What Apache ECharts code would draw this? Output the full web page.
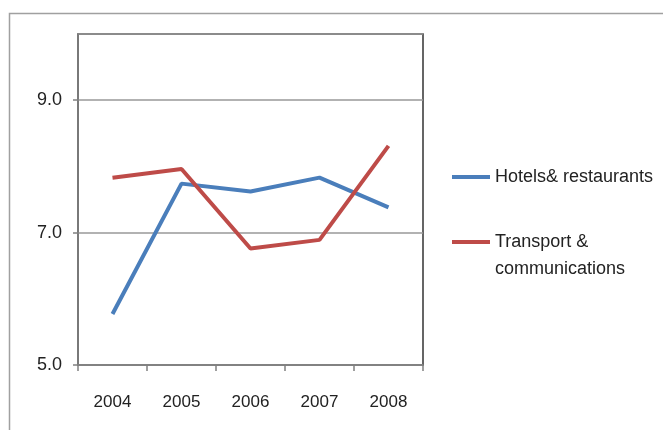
<!DOCTYPE html>
<html>
<head>
<meta charset="utf-8">
<script src="https://cdn.jsdelivr.net/npm/echarts@6/dist/echarts.min.js"></script>
<style>html,body{margin:0;padding:0;background:#fff;}#c{width:663px;height:430px;}</style>
</head>
<body>
<div id="c"></div>
<script>
var categories = ['2004', '2005', '2006', '2007', '2008'];
var hotels = [5.77, 7.74, 7.62, 7.83, 7.38];
var transport = [7.83, 7.96, 6.76, 6.89, 8.31];
var seriesNames = ['Hotels& restaurants', 'Transport &\ncommunications'];
var yMin = 5, yMax = 10, yStep = 2;

var FONT = 'Liberation Sans, Arial, sans-serif';
var chart = echarts.init(document.getElementById('c'), null, {renderer: 'canvas'});
chart.setOption({
  backgroundColor: '#fff',
  animation: false,
  graphic: [{
    type: 'rect', left: 7, top: 11, silent: true,
    shape: {x: 0, y: 0, width: 700, height: 500},
    style: {fill: 'none', stroke: '#a0a0a0', lineWidth: 1.5}
  }],
  grid: {
    left: 78, top: 34, right: 240, bottom: 65,
    show: true, borderColor: '#333', borderWidth: 1.5, backgroundColor: 'transparent'
  },
  legend: [{
    orient: 'vertical', left: 452, top: 163.5, padding: 0,
    itemWidth: 38, itemHeight: 4, itemGap: 5, icon: 'rect',
    data: [seriesNames[0]],
    textStyle: {fontFamily: FONT, fontSize: 18, color: '#222', lineHeight: 27}
  }, {
    orient: 'vertical', left: 452, top: 201.5, padding: 0,
    itemWidth: 38, itemHeight: 4, itemGap: 5, icon: 'rect',
    data: [seriesNames[1]],
    formatter: function (name) { return '\n' + name; },
    textStyle: {fontFamily: FONT, fontSize: 18, color: '#222', lineHeight: 27}
  }],
  xAxis: {
    type: 'category', data: categories, boundaryGap: true,
    axisLine: {lineStyle: {color: '#808080', width: 1.5}},
    axisTick: {show: true, length: 6, lineStyle: {color: '#808080', width: 1.5}},
    axisLabel: {fontFamily: FONT, fontSize: 17, color: '#222', margin: 29},
    splitLine: {show: false}
  },
  yAxis: {
    type: 'value', min: yMin, max: yMax, interval: yStep,
    axisLine: {show: true, lineStyle: {color: '#808080', width: 1.5}},
    axisTick: {show: true, length: 5, lineStyle: {color: '#808080', width: 1.5}},
    axisLabel: {
      fontFamily: FONT, fontSize: 18, color: '#222', margin: 16,
      showMaxLabel: false,
      formatter: function (v) { return v === yMax ? '' : v.toFixed(1); }
    },
    splitLine: {show: true, lineStyle: {color: '#999', width: 1.5}}
  },
  series: [{
    name: seriesNames[0], type: 'line', data: hotels,
    showSymbol: false, symbol: 'none',
    itemStyle: {color: '#4A7EBB'},
    lineStyle: {color: '#4A7EBB', width: 4}
  }, {
    name: seriesNames[1], type: 'line', data: transport,
    showSymbol: false, symbol: 'none',
    itemStyle: {color: '#BE4B48'},
    lineStyle: {color: '#BE4B48', width: 4}
  }]
});
</script>
</body>
</html>
